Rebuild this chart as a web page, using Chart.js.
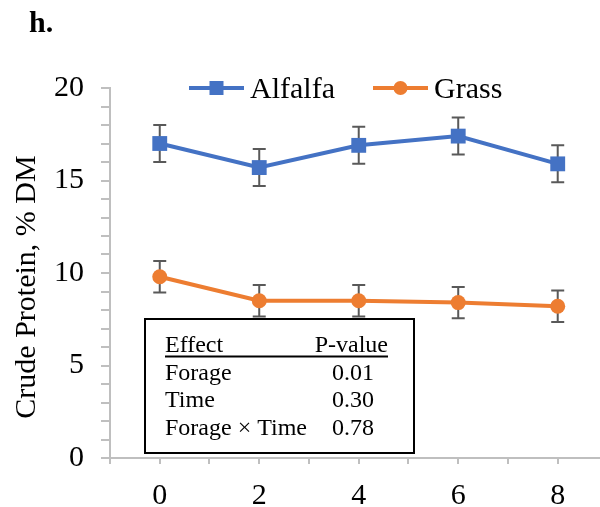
<!DOCTYPE html>
<html>
<head>
<meta charset="utf-8">
<script src="https://cdn.jsdelivr.net/npm/chart.js@4/dist/chart.umd.min.js"></script>
<style>
html,body{margin:0;padding:0;background:#fff;}
#wrap{position:relative;width:600px;height:507px;}
</style>
</head>
<body>
<div id="wrap"><canvas id="c" width="600" height="507"></canvas></div>
<script>
// ---- data ----
const days = [0, 2, 4, 6, 8];
const alfalfa = [17.0, 15.7, 16.9, 17.4, 15.9];
const alfalfaSE = [1.0, 1.0, 1.0, 1.0, 1.0];
const grass = [9.8, 8.5, 8.5, 8.4, 8.2];
const grassSE = [0.85, 0.85, 0.85, 0.85, 0.85];
const yTicks = [0, 5, 10, 15, 20];
const xTickLabels = [0, 2, 4, 6, 8];
const effects = ['Forage', 'Time', 'Forage × Time'];
const pValues = ['0.01', '0.30', '0.78'];
const panelLabel = 'h.';
const yTitle = 'Crude Protein, % DM';

const FONT = '"Liberation Serif", "Times New Roman", serif';
const BLUE = '#4472C4', ORANGE = '#ED7D31', AXIS = '#BFBFBF';
const X_MIN = -1, X_MAX = 8.85;

const errs = [alfalfaSE, grassSE];

const errorBars = {
  id: 'errorBars',
  beforeDatasetsDraw(chart) {
    const ctx = chart.ctx, xs = chart.scales.x, ys = chart.scales.y;
    ctx.save();
    ctx.strokeStyle = '#595959';
    ctx.lineWidth = 2;
    chart.data.datasets.forEach((ds, i) => {
      ds.data.forEach((p, j) => {
        const x = xs.getPixelForValue(p.x);
        const top = ys.getPixelForValue(p.y + errs[i][j]);
        const bot = ys.getPixelForValue(p.y - errs[i][j]);
        ctx.beginPath();
        ctx.moveTo(x, top); ctx.lineTo(x, bot);
        ctx.moveTo(x - 6.5, top); ctx.lineTo(x + 6.5, top);
        ctx.moveTo(x - 6.5, bot); ctx.lineTo(x + 6.5, bot);
        ctx.stroke();
      });
    });
    ctx.restore();
  }
};

const extras = {
  id: 'extras',
  afterDraw(chart) {
    const ctx = chart.ctx;
    ctx.save();
    // panel label
    ctx.fillStyle = '#000';
    ctx.font = 'bold 30px ' + FONT;
    ctx.textBaseline = 'alphabetic';
    ctx.textAlign = 'left';
    ctx.fillText(panelLabel, 29, 32);

    // y title
    ctx.save();
    ctx.translate(35, 287);
    ctx.rotate(-Math.PI / 2);
    ctx.font = '30px ' + FONT;
    ctx.textAlign = 'center';
    ctx.fillText(yTitle, 0, 0);
    ctx.restore();

    // legend
    const items = [
      {label: chart.data.datasets[0].label, color: BLUE, style: 'rect', x0: 189},
      {label: chart.data.datasets[1].label, color: ORANGE, style: 'circle', x0: 373}
    ];
    const ly = 88;
    items.forEach(it => {
      ctx.strokeStyle = it.color;
      ctx.lineWidth = 4;
      ctx.beginPath();
      ctx.moveTo(it.x0, ly); ctx.lineTo(it.x0 + 55, ly);
      ctx.stroke();
      ctx.fillStyle = it.color;
      const cx = it.x0 + 27.5;
      if (it.style === 'rect') {
        ctx.fillRect(cx - 7, ly - 7, 14, 14);
      } else {
        ctx.beginPath(); ctx.arc(cx, ly, 7, 0, Math.PI * 2); ctx.fill();
      }
      ctx.fillStyle = '#000';
      ctx.font = '30px ' + FONT;
      ctx.textAlign = 'left';
      ctx.fillText(it.label, it.x0 + 61, 98);
    });

    // stats table box
    ctx.fillStyle = '#fff';
    ctx.fillRect(145, 319, 269, 134);
    ctx.strokeStyle = '#000';
    ctx.lineWidth = 2;
    ctx.strokeRect(145, 319, 269, 134);
    ctx.fillStyle = '#000';
    ctx.font = '24px ' + FONT;
    ctx.textAlign = 'left';
    ctx.fillText('Effect', 165, 352);
    ctx.textAlign = 'right';
    ctx.fillText('P-value', 388, 352);
    ctx.beginPath();
    ctx.moveTo(165, 356.5); ctx.lineTo(388, 356.5);
    ctx.stroke();
    const rowY = [380, 407, 435];
    effects.forEach((e, i) => {
      ctx.textAlign = 'left';
      ctx.fillText(e, 165, rowY[i]);
      ctx.textAlign = 'center';
      ctx.fillText(pValues[i], 353, rowY[i]);
    });
    ctx.restore();
  }
};

new Chart(document.getElementById('c'), {
  type: 'line',
  data: {
    datasets: [
      {
        label: 'Alfalfa',
        data: days.map((d, i) => ({x: d, y: alfalfa[i]})),
        borderColor: BLUE, backgroundColor: BLUE,
        borderWidth: 4, pointStyle: 'rect', pointRadius: 10.5,
        pointBorderWidth: 0, pointHoverRadius: 10.5, tension: 0
      },
      {
        label: 'Grass',
        data: days.map((d, i) => ({x: d, y: grass[i]})),
        borderColor: ORANGE, backgroundColor: ORANGE,
        borderWidth: 4, pointStyle: 'circle', pointRadius: 7.5,
        pointBorderWidth: 0, pointHoverRadius: 7.5, tension: 0
      }
    ]
  },
  options: {
    responsive: false,
    animation: false,
    events: [],
    layout: {autoPadding: false, padding: {top: 88, right: 0, left: 0, bottom: 0}},
    plugins: {legend: {display: false}, tooltip: {enabled: false}, title: {display: false}},
    scales: {
      x: {
        type: 'linear',
        min: X_MIN, max: X_MAX,
        afterBuildTicks(s) {
          s.ticks = [-1, 0, 1, 2, 3, 4, 5, 6, 7, 8].map(v => ({value: v}));
        },
        afterFit(s) { s.height = 49; s.paddingLeft = 0; s.paddingRight = 0; },
        border: {color: AXIS, width: 2},
        grid: {drawOnChartArea: false, drawTicks: true, tickLength: 6, lineWidth: 2, color: AXIS},
        ticks: {
          autoSkip: false, maxRotation: 0, padding: 14,
          color: '#000', font: {family: FONT, size: 30},
          callback: v => xTickLabels.includes(v) ? String(v) : ''
        }
      },
      y: {
        min: 0, max: 20,
        afterBuildTicks(s) { const t = []; for (let v = 0; v <= 20; v++) t.push({value: v}); s.ticks = t; },
        afterFit(s) { s.width = 110; s.paddingTop = 0; s.paddingBottom = 0; },
        border: {color: AXIS, width: 2},
        grid: {drawOnChartArea: false, drawTicks: true, tickLength: 9, color: AXIS, lineWidth: 2},
        ticks: {
          autoSkip: false, padding: 17,
          color: '#000', font: {family: FONT, size: 30},
          callback: v => yTicks.includes(v) ? String(v) : ''
        }
      }
    }
  },
  plugins: [errorBars, extras]
});
</script>
</body>
</html>
